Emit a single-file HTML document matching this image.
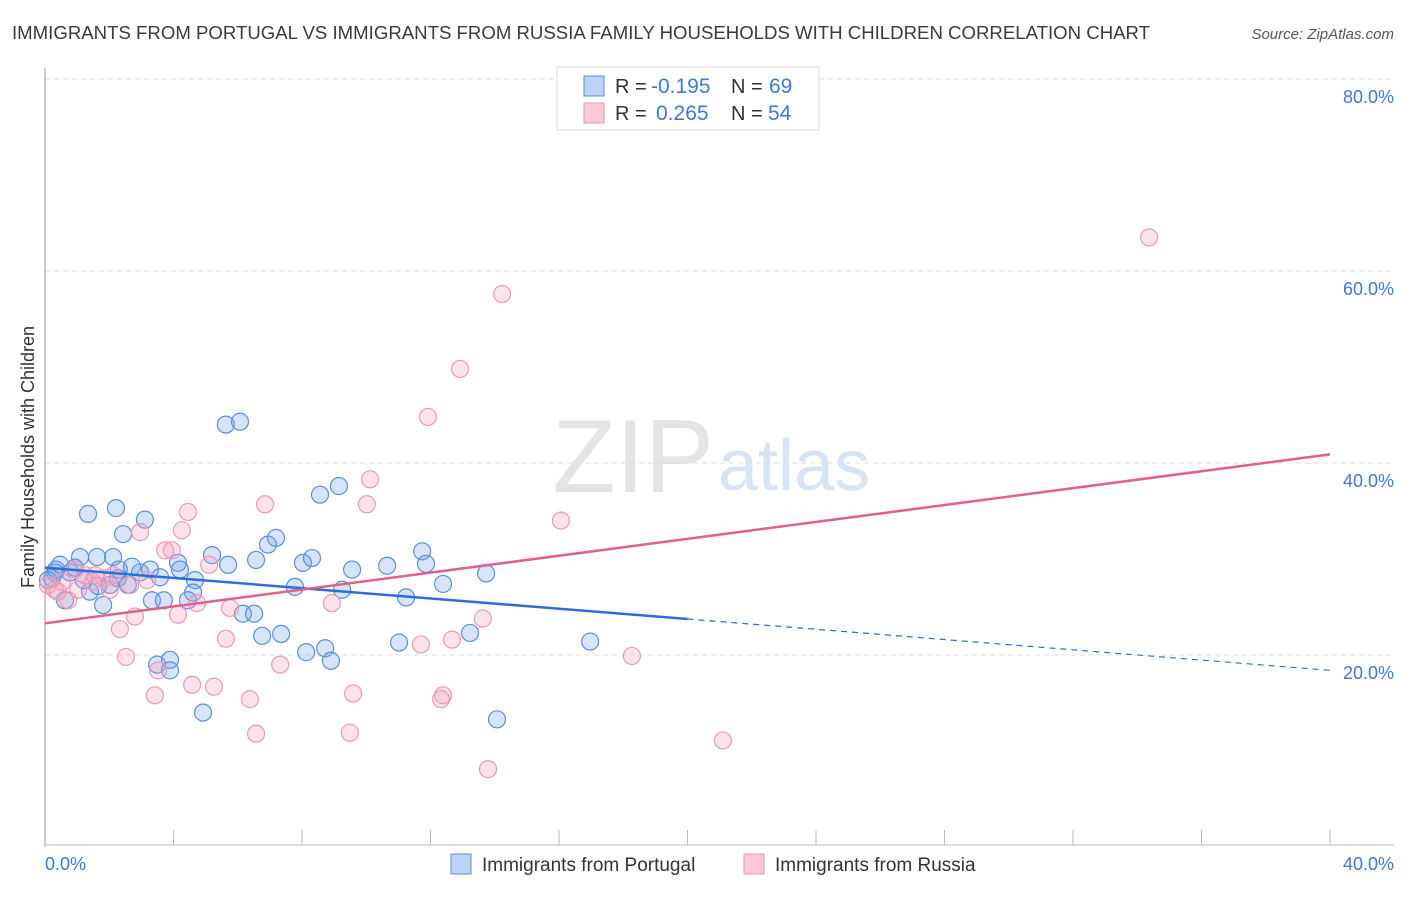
<!DOCTYPE html>
<html><head><meta charset="utf-8"><style>
body{margin:0;background:#fff;font-family:"Liberation Sans",sans-serif;}
svg text{font-family:"Liberation Sans",sans-serif;}
</style></head><body>
<svg id="c" width="1406" height="892">
<text x="12" y="39" font-size="18.6" fill="#3a3a3a" textLength="1138">IMMIGRANTS FROM PORTUGAL VS IMMIGRANTS FROM RUSSIA FAMILY HOUSEHOLDS WITH CHILDREN CORRELATION CHART</text>
<text x="1394" y="39" font-size="15" fill="#555" font-style="italic" text-anchor="end">Source: ZipAtlas.com</text>
<text x="714" y="492" font-size="104" fill="#e4e4e4" text-anchor="end" font-family="Liberation Serif">ZIP</text>
<text x="718" y="490" font-size="72" fill="#d6e4f5">atlas</text>
<g id="grid"></g>
<line x1="45" y1="68" x2="45" y2="847" stroke="#999"/>
<line x1="45" y1="845" x2="1394" y2="845" stroke="#bbb"/>
<text transform="translate(34,457) rotate(-90)" font-size="18" fill="#333" text-anchor="middle">Family Households with Children</text>
<text x="45" y="870" font-size="18" fill="#3b78d8">0.0%</text>
<text x="1394" y="870" font-size="18" fill="#3b78d8" text-anchor="end">40.0%</text>
<g id="pts"></g>
<g id="lines"></g>
<g>
<rect x="557" y="67" width="262" height="63" fill="#fff" stroke="#ddd"/>
<rect x="584" y="76" width="20" height="20" fill="#bcd3f5" stroke="#5b8fdb"/>
<rect x="584" y="103" width="20" height="20" fill="#f9c9d8" stroke="#e994b0"/>
<text x="615" y="93" font-size="20" fill="#333">R =</text>
<text x="651" y="93" font-size="21" fill="#3b78d8">-0.195</text>
<text x="731" y="93" font-size="20" fill="#333">N =</text>
<text x="769" y="93" font-size="21" fill="#3b78d8">69</text>
<text x="615" y="120" font-size="20" fill="#333">R =</text>
<text x="656" y="120" font-size="21" fill="#3b78d8">0.265</text>
<text x="731" y="120" font-size="20" fill="#333">N =</text>
<text x="768" y="120" font-size="21" fill="#3b78d8">54</text>
</g>
<rect x="451" y="854" width="20" height="20" fill="#bcd3f5" stroke="#5b8fdb"/>
<text x="482" y="871" font-size="19" fill="#333">Immigrants from Portugal</text>
<rect x="744" y="854" width="20" height="20" fill="#f9c9d8" stroke="#e994b0"/>
<text x="775" y="871" font-size="19" fill="#333">Immigrants from Russia</text>
</svg>
<script>
const yTicks=[20,40,60,80];
const xTickVals=[0,4,8,12,16,20,24,28,32,36,40];
const portugalX=[0.22,0.47,0.31,0.78,1.09,1.34,1.62,1.81,2.12,2.21,2.43,2.30,2.71,2.58,2.96,3.11,3.27,3.33,3.58,3.70,3.49,3.89,3.89,4.14,4.20,4.67,4.61,4.45,4.92,5.20,5.70,5.63,6.07,6.16,6.51,6.57,6.76,6.94,7.19,7.35,7.78,8.03,8.13,8.31,8.56,8.72,8.90,9.15,9.25,9.56,10.65,11.02,11.24,11.74,11.86,12.39,13.23,13.73,14.07,16.97,0.93,0.62,1.40,2.02,1.65,0.09,2.27,1.21,0.34];
const portugalY=[28.0,29.4,28.6,28.6,30.2,34.7,30.2,25.2,30.2,35.3,32.6,28.9,29.2,27.3,28.6,34.1,28.9,25.7,28.1,25.7,19.0,19.5,18.4,29.6,28.9,27.8,26.5,25.7,14.0,30.4,29.4,44.0,44.3,24.3,24.3,29.9,22.0,31.5,32.2,22.2,27.1,29.6,20.3,30.1,36.7,20.7,19.4,37.6,26.8,28.9,29.3,21.3,26.0,30.8,29.5,27.4,22.3,28.5,13.3,21.4,29.1,25.7,26.6,27.3,27.2,27.8,28.0,27.8,28.9];
const russiaX=[0.09,0.31,0.53,0.72,0.93,1.25,1.49,1.84,2.02,2.33,2.52,2.80,2.96,3.18,3.42,3.52,3.74,3.95,4.14,4.26,4.45,4.58,4.73,5.11,5.26,5.63,5.76,6.38,6.57,6.85,7.32,8.93,9.49,9.59,10.02,10.12,11.70,11.92,12.33,12.39,12.67,12.92,13.63,13.79,14.23,16.06,18.27,21.10,34.37,1.56,1.03,0.40,2.65,2.12];
const russiaY=[27.3,26.8,27.6,25.7,28.9,28.3,27.6,28.0,26.8,22.7,19.8,24.0,32.8,27.8,15.8,18.4,30.9,30.9,24.2,33.0,34.9,16.9,25.4,29.4,16.7,21.7,24.9,15.4,11.8,35.7,19.0,25.4,11.9,16.0,35.7,38.3,21.1,44.8,15.4,15.8,21.6,49.8,23.8,8.1,57.6,34.0,19.9,11.1,63.5,28.3,26.8,26.6,27.3,28.3];
const portugalTrend=[29.1,18.4];
const russiaTrend=[23.3,40.9];
const portugalSolidEnd=20.0;
const NS="http://www.w3.org/2000/svg";
const sx=v=>45+v*1285/40, sy=v=>847-v*9.6;
function mk(t,a,p){const e=document.createElementNS(NS,t);for(const k in a)e.setAttribute(k,a[k]);p.appendChild(e);return e;}
const grid=document.getElementById('grid');
yTicks.forEach(v=>{
 const l=mk('line',{x1:45,x2:1394,y1:sy(v),y2:sy(v),stroke:'#ddd','stroke-dasharray':'5,4'},grid);
 
 
 const t=mk('text',{x:1394,y:sy(v)+24,'font-size':18,fill:'#3b78d8','text-anchor':'end'},grid);
 t.textContent=v.toFixed(1)+'%';
 
 
});
xTickVals.forEach(v=>{
 const l=mk('line',{x1:sx(v),x2:sx(v),y1:830,y2:845,stroke:'#bbb'},grid);
 
 
});
const pts=document.getElementById('pts');
portugalX.forEach((x,i)=>{
 const c=mk('circle',{cx:sx(x),cy:sy(portugalY[i]),r:8.5,fill:'rgba(120,165,235,0.3)',stroke:'#5b8fdb','stroke-width':1.2},pts);
 
 
});
russiaX.forEach((x,i)=>{
 const c=mk('circle',{cx:sx(x),cy:sy(russiaY[i]),r:8.5,fill:'rgba(245,160,190,0.3)',stroke:'#eb9ab5','stroke-width':1.2},pts);
 
 
});
const ln=document.getElementById('lines');
const by=x=>portugalTrend[0]+(portugalTrend[1]-portugalTrend[0])*x/40;
const maxX=portugalSolidEnd;
let a=mk('line',{x1:sx(0),y1:sy(by(0)),x2:sx(maxX),y2:sy(by(maxX)),stroke:'#2a6fd6','stroke-width':2.5},ln);


a=mk('line',{x1:sx(maxX),y1:sy(by(maxX)),x2:sx(40),y2:sy(by(40)),stroke:'#2a6fd6','stroke-width':1.2,'stroke-dasharray':'6,5'},ln);


a=mk('line',{x1:sx(0),y1:sy(russiaTrend[0]),x2:sx(40),y2:sy(russiaTrend[1]),stroke:'#e0608a','stroke-width':2.5},ln);


</script>
</body></html>
